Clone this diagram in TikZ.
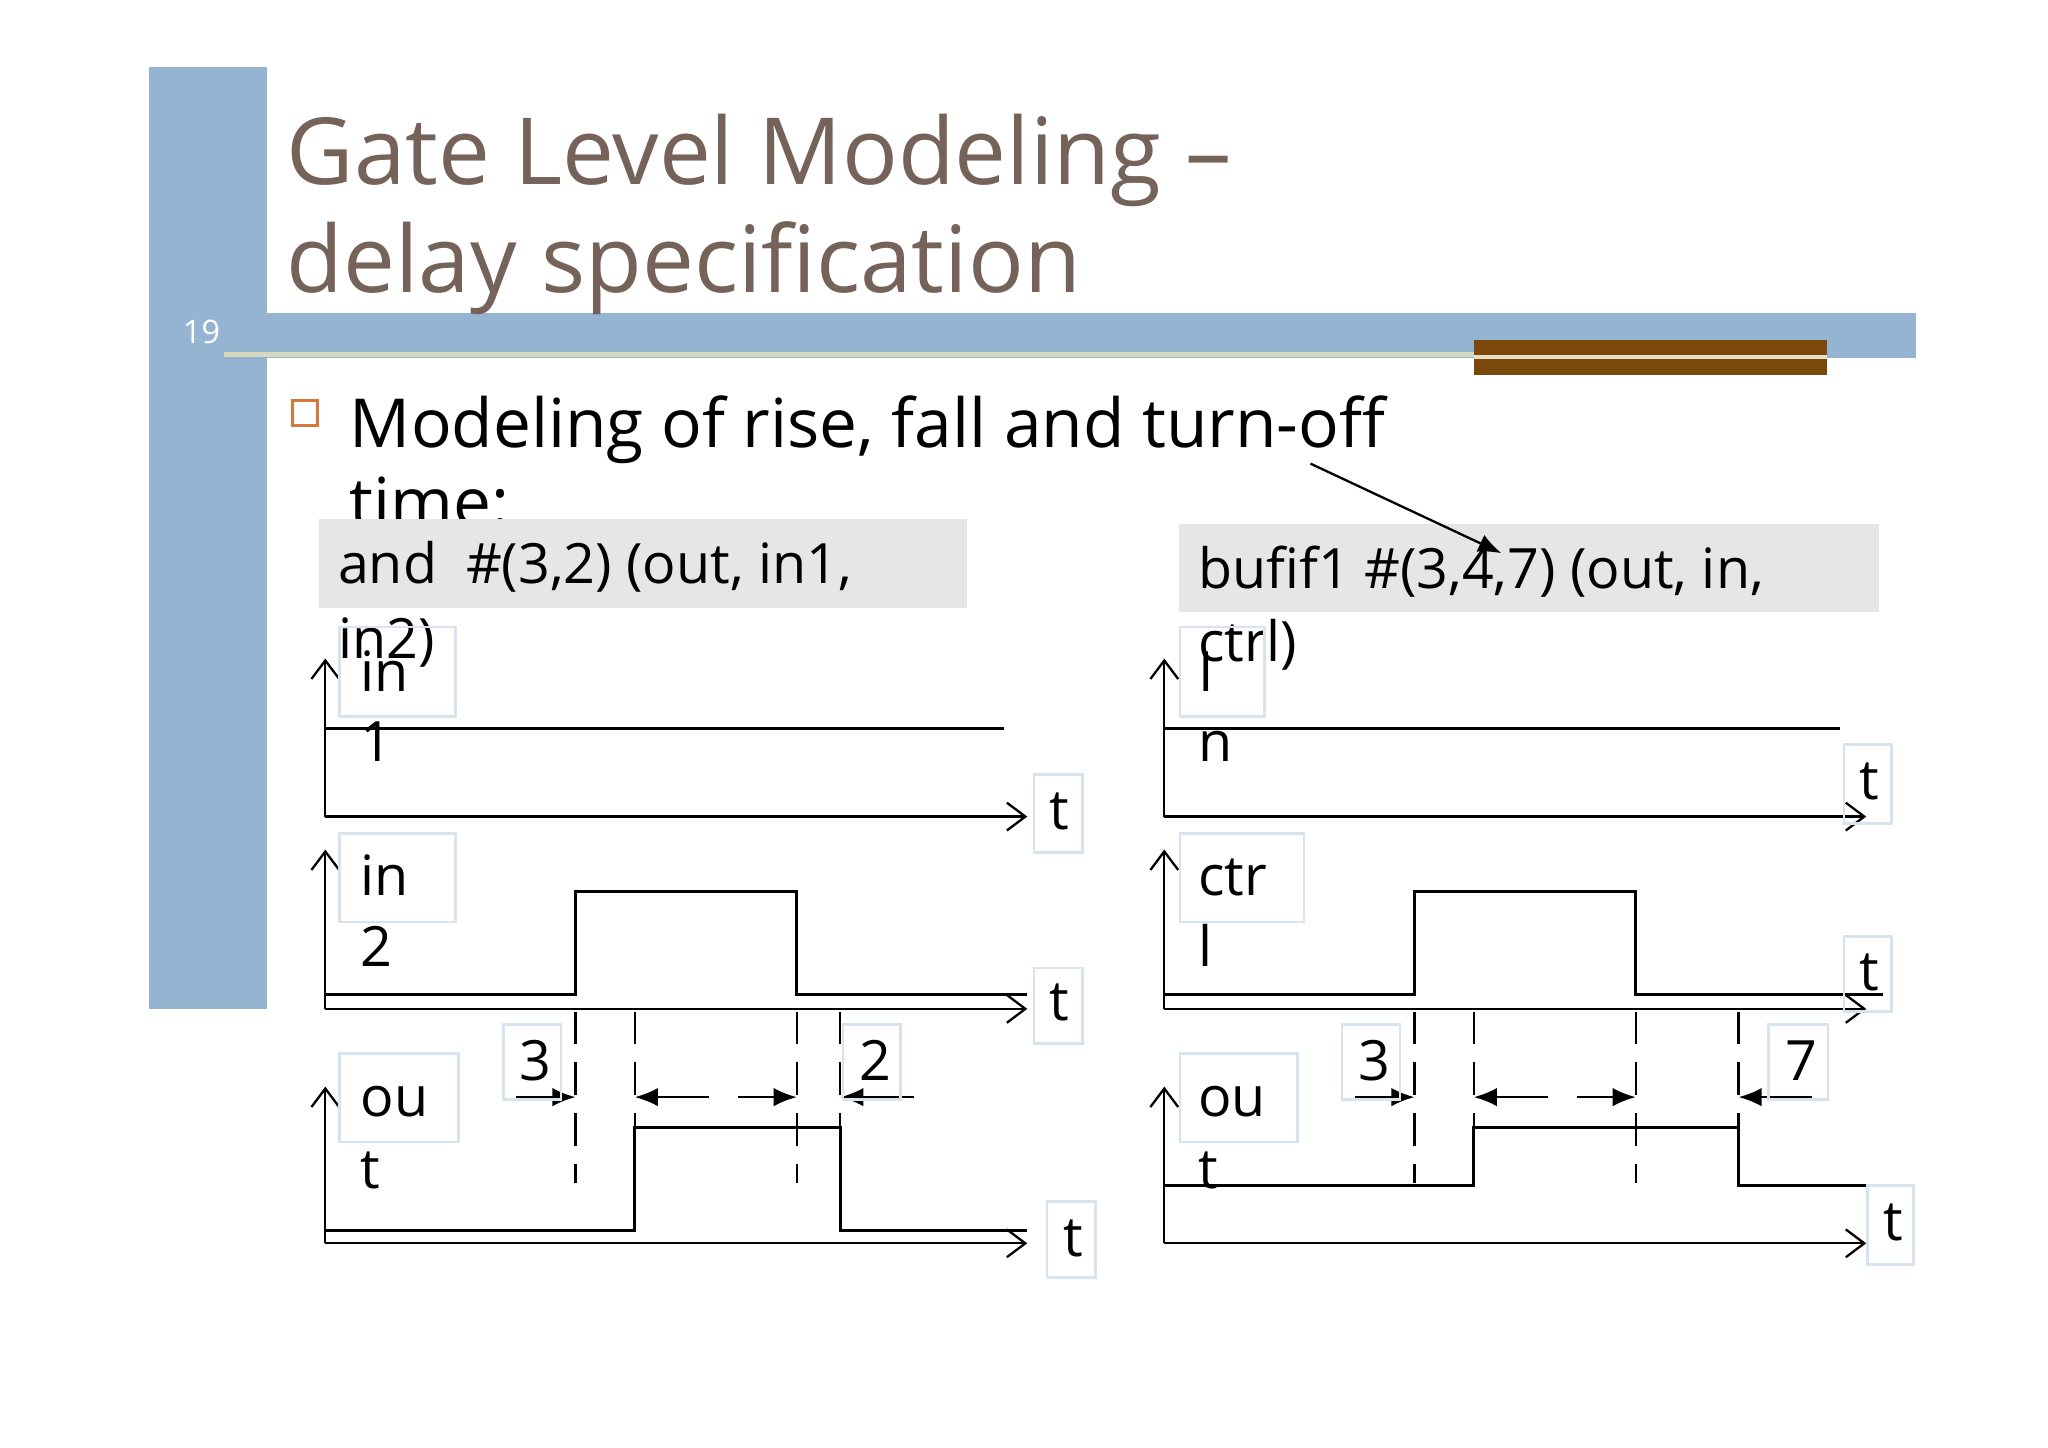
\documentclass[tikz,border=0pt]{standalone}
\usepackage{fontspec}
\setmainfont{Open Sans}
\usetikzlibrary{arrows.meta}
\definecolor{barblue}{RGB}{149,180,210}
\definecolor{titlec}{RGB}{117,98,88}
\definecolor{brownbar}{RGB}{122,72,10}
\definecolor{graybox}{RGB}{230,230,230}
\definecolor{lblborder}{RGB}{215,228,240}
\definecolor{bulletc}{RGB}{214,120,60}
\tikzset{
 sig/.style={line width=0.6pt},
 ax/.style={line width=0.5pt,-{Straight Barb[length=4pt,width=6pt]}},
 dashline/.style={line width=0.5pt,dash pattern=on 7pt off 4pt},
 dim/.style={line width=0.5pt,-{Latex[length=5pt,width=4pt]}},
 lbl/.style={draw=lblborder,line width=0.6pt,anchor=north west,inner sep=0pt},
 ltxt/.style={anchor=base west,font=\fontsize{12}{13}\selectfont,inner sep=0pt},
}
\begin{document}
\begin{tikzpicture}[x=0.01cm,y=-0.01cm]
\useasboundingbox (0,0) rectangle (1555,1099);
\fill[white] (0,0) rectangle (1555,1099);
\fill[barblue] (113,51) rectangle (203,766);
\fill[barblue] (203,238) rectangle (1455,272);
\draw[color={rgb,255:red,215;green,215;blue,190},line width=1.2pt] (170,269) -- (1387,269);
\fill[brownbar] (1119,258) rectangle (1387,285);
\draw[color={rgb,255:red,230;green,225;blue,200},line width=1pt] (1119,271) -- (1387,271);
\node[anchor=base,text=white,font=\fontsize{7}{8}\selectfont] (pg) at (153,261) {19};
\node[anchor=base west,text=titlec,font=\fontsize{20}{20}\selectfont,inner sep=0pt,xscale=1] (t1) at (217,140) {Gate Level Modeling –};
\node[anchor=base west,text=titlec,font=\fontsize{20}{20}\selectfont,inner sep=0pt] (t2) at (217,222) {delay specification};
\draw[bulletc,line width=0.7pt] (222,304) rectangle (241,323);
\node[anchor=base west,font=\fontsize{14.6}{16}\selectfont,inner sep=0pt] (b1) at (265,340) {Modeling of rise, fall and turn-off};
\node[anchor=base west,font=\fontsize{14.6}{16}\selectfont,inner sep=0pt] (b2) at (265,400) {time:};
\fill[graybox] (242,394) rectangle (734,462);
\fill[graybox] (895,398) rectangle (1427,465);
\node[ltxt] (c1) at (256,443) {and\ \ \#(3,2) (out, in1,};
\node[ltxt] (c1b) at (256,500) {in2)};
\node[ltxt] (c2) at (909,447) {bufif1 \#(3,4,7) (out, in,};
\node[ltxt] (c2b) at (909,502) {ctrl)};
\coordinate (pa) at (995,352);
\coordinate (pb) at (1140,420);
\draw[line width=0.5pt,-{Latex[length=5pt,width=4pt]}] (pa) -- (pb);

% ===== left =====
\draw[ax] (247,620) -- (247,500);
\draw[ax] (247,620) -- (780,620);
\draw[sig] (247,553) -- (762,553);
\draw[lbl] (258,476) rectangle (346,544);
\node[ltxt] (l1) at (273,525) {in};
\node[ltxt] (l1b) at (273,578) {1};
\draw[lbl] (785,588) rectangle (822,647);
\node[ltxt] (lt1) at (796,630) {t};
\draw[ax] (247,766) -- (247,645);
\draw[ax] (247,766) -- (780,766);
\draw[sig] (247,755) -- (437,755) -- (437,677) -- (605,677) -- (605,755) -- (780,755);
\draw[lbl] (258,633) rectangle (346,700);
\node[ltxt] (l2) at (273,680) {in};
\node[ltxt] (l2b) at (273,734) {2};
\draw[lbl] (785,735) rectangle (822,792);
\node[ltxt] (lt2) at (796,775) {t};
\draw[ax] (247,944) -- (247,825);
\draw[ax] (247,944) -- (780,944);
\draw[sig] (247,934) -- (482,934) -- (482,856) -- (638,856) -- (638,934) -- (780,934);
\draw[lbl] (258,800) rectangle (348,867);
\node[ltxt] (l3) at (273,848) {ou};
\node[ltxt] (l3b) at (273,902) {t};
\draw[lbl] (795,912) rectangle (832,970);
\node[ltxt] (lt3) at (807,954) {t};
\draw[dashline] (437,768) -- (437,898);
\draw[dashline] (482,768) -- (482,856);
\draw[dashline] (605,768) -- (605,898);
\draw[dashline] (638,768) -- (638,856);
\draw[dim] (392,833) -- (437,833);
\draw[dim] (538,833) -- (482,833);
\draw[dim] (560,833) -- (605,833);
\draw[dim] (694,833) -- (638,833);
\draw[lbl] (382,778) rectangle (426,835);
\node[ltxt] (d3) at (394,820) {3};
\draw[lbl] (640,778) rectangle (684,835);
\node[ltxt] (d2) at (652,820) {2};

% ===== right =====
\draw[ax] (884,620) -- (884,500);
\draw[ax] (884,620) -- (1417,620);
\draw[sig] (884,553) -- (1397,553);
\draw[lbl] (896,476) rectangle (960,544);
\node[ltxt] (r1) at (909,525) {I};
\node[ltxt] (r1b) at (909,578) {n};
\draw[lbl] (1400,565) rectangle (1436,625);
\node[ltxt] (rt1) at (1411,607) {t};
\draw[ax] (884,766) -- (884,645);
\draw[ax] (884,766) -- (1417,766);
\draw[sig] (884,755) -- (1074,755) -- (1074,677) -- (1242,677) -- (1242,755) -- (1430,755);
\draw[lbl] (896,633) rectangle (990,700);
\node[ltxt] (r2) at (909,680) {ctr};
\node[ltxt] (r2b) at (909,734) {l};
\draw[lbl] (1400,711) rectangle (1436,768);
\node[ltxt] (rt2) at (1411,752) {t};
\draw[ax] (884,944) -- (884,825);
\draw[ax] (884,944) -- (1417,944);
\draw[sig] (884,900) -- (1119,900) -- (1119,856) -- (1320,856) -- (1320,900) -- (1417,900);
\draw[lbl] (896,800) rectangle (985,867);
\node[ltxt] (r3) at (909,848) {ou};
\node[ltxt] (r3b) at (909,902) {t};
\draw[lbl] (1418,900) rectangle (1453,960);
\node[ltxt] (rt3) at (1429,942) {t};
\draw[dashline] (1074,768) -- (1074,898);
\draw[dashline] (1119,768) -- (1119,856);
\draw[dashline] (1242,768) -- (1242,898);
\draw[dashline] (1320,768) -- (1320,856);
\draw[dim] (1029,833) -- (1074,833);
\draw[dim] (1175,833) -- (1119,833);
\draw[dim] (1197,833) -- (1242,833);
\draw[dim] (1376,833) -- (1320,833);
\draw[lbl] (1019,778) rectangle (1063,835);
\node[ltxt] (e3) at (1031,820) {3};
\draw[lbl] (1343,778) rectangle (1388,835);
\node[ltxt] (e7) at (1355,820) {7};
\end{tikzpicture}
\end{document}
